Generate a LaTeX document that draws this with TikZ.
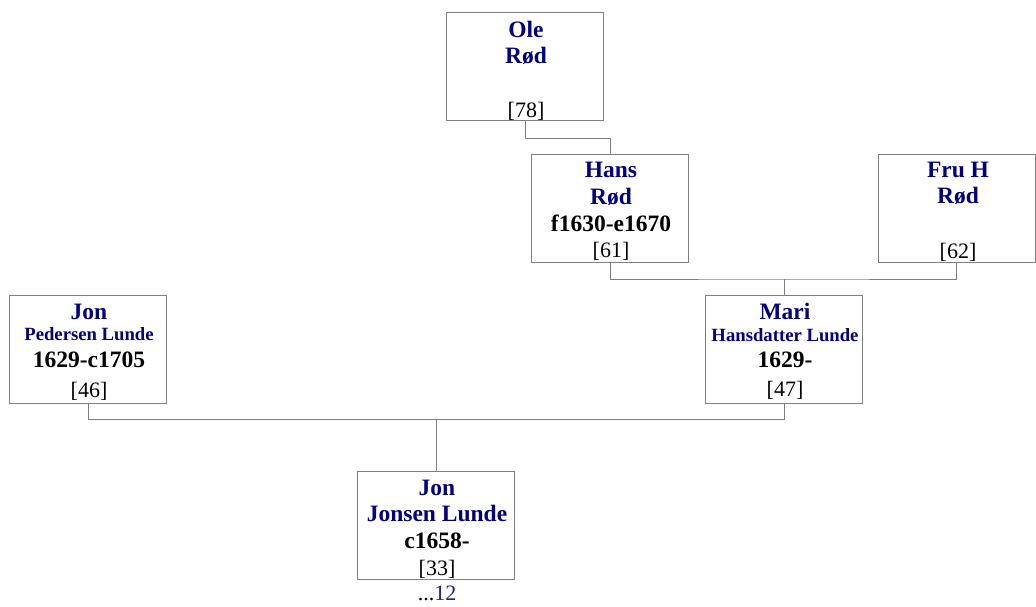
\documentclass[tikz,border=0pt]{standalone}
\usepackage{fontspec}
\setmainfont{Liberation Serif}
\definecolor{namecol}{RGB}{0,0,128}
\definecolor{numcol}{RGB}{30,30,160}
\definecolor{linecol}{RGB}{128,128,128}
\tikzset{
  person/.style={draw=linecol, line width=1pt, minimum width=157pt, minimum height=108pt, inner sep=0pt, fill=white},
  conn/.style={draw=linecol, line width=1pt},
  nm/.style={anchor=base, inner sep=0pt, text=namecol, font=\fontsize{23.5}{27}\selectfont\bfseries},
  nmsmall/.style={anchor=base, inner sep=0pt, text=namecol, font=\fontsize{18.7}{22}\selectfont\bfseries},
  dates/.style={anchor=base, inner sep=0pt, text=black, font=\fontsize{23.5}{27}\selectfont\bfseries},
  ref/.style={anchor=base, inner sep=0pt, text=black, font=\fontsize{22}{26}\selectfont},
}
\begin{document}
\begin{tikzpicture}[x=1pt, y=-1pt]
\useasboundingbox (0,0) rectangle (1036,606);
% boxes
\node[person] (ole)  at (525,66.5) {};
\node[person] (hans) at (610,208) {};
\node[person] (fru)  at (956.5,208) {};
\node[person] (jon)  at (88,349.5) {};
\node[person] (mari) at (784,349.5) {};
\node[person] (child) at (436,525) {};
% connectors
\coordinate (oh) at (ole.south |- 0,138);
\draw[conn] (ole.south) -- (oh) -| (hans.north);
\coordinate (hf) at (mari.north |- 0,279);
\draw[conn] (hans.south) |- (hf) -| (fru.south);
\draw[conn] (hf) -- (mari.north);
\coordinate (jm) at (child.north |- 0,419.5);
\draw[conn] (jon.south) |- (jm) -| (mari.south);
\draw[conn] (jm) -- (child.north);
% Ole
\node[nm] (oleA) at (526,37) {Ole};
\node[nm] (oleB) at (526,63) {Rød};
\node[ref] (oleR) at (526,117) {[78]};
% Hans
\node[nm] (hansA) at (611,177) {Hans};
\node[nm] (hansB) at (611,204) {Rød};
\node[dates] (hansD) at (611,231) {f1630-e1670};
\node[ref] (hansR) at (611,257) {[61]};
% Fru H
\node[nm] (fruA) at (958,177) {Fru H};
\node[nm] (fruB) at (958,203) {Rød};
\node[ref] (fruR) at (958,258) {[62]};
% Jon
\node[nm] (jonA) at (89,319) {Jon};
\node[nmsmall] (jonB) at (89,340.5) {Pedersen Lunde};
\node[dates] (jonD) at (89,367) {1629-c1705};
\node[ref] (jonR) at (89,397) {[46]};
% Mari
\node[nm] (mariA) at (785,319) {Mari};
\node[nmsmall] (mariB) at (785,341) {Hansdatter Lunde};
\node[dates] (mariD) at (785,367) {1629-};
\node[ref] (mariR) at (785,396.5) {[47]};
% child
\node[nm] (chA) at (437,495) {Jon};
\node[nm] (chB) at (437,521.5) {Jonsen Lunde};
\node[dates] (chD) at (437,548) {c1658-};
\node[ref] (chR) at (437,575.5) {[33]};
\node[ref] (more) at (437,600.5) {...\textcolor{numcol}{12}};
\end{tikzpicture}
\end{document}
